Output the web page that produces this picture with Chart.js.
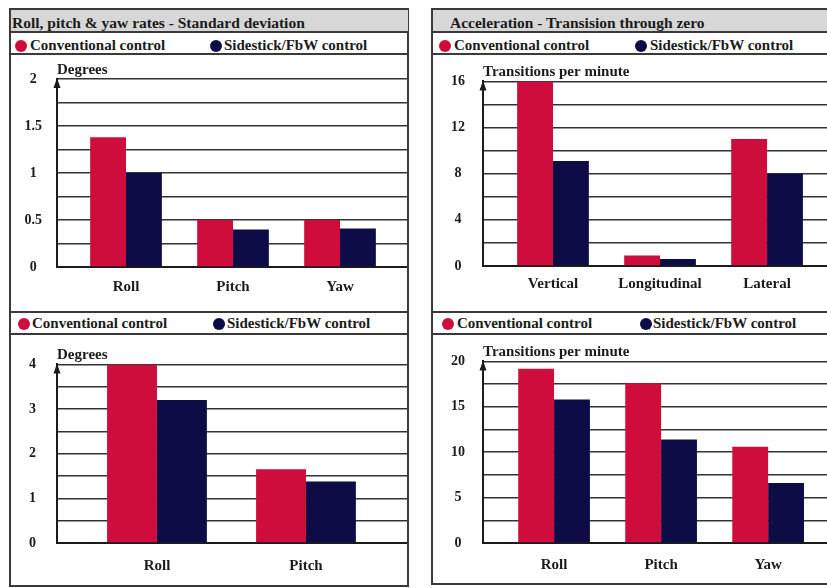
<!DOCTYPE html>
<html>
<head>
<meta charset="utf-8">
<script src="https://cdn.jsdelivr.net/npm/chart.js@4"></script>
<style>
  html, body { margin: 0; padding: 0; background: #ffffff; }
  body {
    width: 827px; height: 588px; position: relative; overflow: hidden;
    font-family: "Liberation Serif", "Times New Roman", serif;
    font-weight: bold; color: #1b1b1b;
  }
  .box { position: absolute; border: 2px solid #3a3a3a; box-sizing: border-box; }
  .titlebar {
    position: absolute; height: 22px; background: #d7d7d7;
    font-size: 15.5px; line-height: 26px; white-space: nowrap; overflow: hidden;
  }
  .rule { position: absolute; height: 2px; background: #3a3a3a; }
  .legend-text { position: absolute; font-size: 15px; line-height: 20px; white-space: nowrap; }
  .dot { position: absolute; width: 12px; height: 12px; border-radius: 50%; }
  canvas { position: absolute; }
</style>
</head>
<body>
<script>
// Series shared by all four panels
const seriesNames = ['Conventional control', 'Sidestick/FbW control'];
const seriesColors = ['#cf0d3d', '#0e0c47'];

// Roll, pitch & yaw rates - standard deviation (degrees)
const rateCategories = ['Roll', 'Pitch', 'Yaw'];
const rateConventional = [1.38, 0.5, 0.5];
const rateSidestick = [1.0, 0.4, 0.41];
const rateTicks = [0, 0.5, 1, 1.5, 2];

// Acceleration - transitions through zero per minute
const accelCategories = ['Vertical', 'Longitudinal', 'Lateral'];
const accelConventional = [16, 0.9, 11];
const accelSidestick = [9.1, 0.6, 8];
const accelTicks = [0, 4, 8, 12, 16];

// Roll and pitch attitude (degrees)
const attitudeCategories = ['Roll', 'Pitch'];
const attitudeConventional = [4, 1.65];
const attitudeSidestick = [3.2, 1.38];
const attitudeTicks = [0, 1, 2, 3, 4];

// Roll, pitch & yaw transitions per minute
const transCategories = ['Roll', 'Pitch', 'Yaw'];
const transConventional = [19.2, 17.6, 10.6];
const transSidestick = [15.8, 11.4, 6.6];
const transTicks = [0, 5, 10, 15, 20];

const leftTitle = 'Roll, pitch & yaw rates - Standard deviation';
const rightTitle = 'Acceleration - Transision through zero';
const degreesCaption = 'Degrees';
const transitionsCaption = 'Transitions per minute';

const FONT = '"Liberation Serif", "Times New Roman", serif';

// ---------- frame: boxes, title bars, rules ----------
function el(cls, style, text) {
  const d = document.createElement('div');
  d.className = cls;
  Object.assign(d.style, style);
  if (text) d.textContent = text;
  document.body.appendChild(d);
  return d;
}

el('box', { left: '9px', top: '8px', width: '400px', height: '579px' });
el('box', { left: '431px', top: '8px', width: '420px', height: '577px' });

el('titlebar', { left: '11px', top: '10px', width: '396px', paddingLeft: '1px' }, leftTitle);
el('titlebar', { left: '433px', top: '10px', width: '394px', paddingLeft: '17px', boxSizing: 'border-box' }, rightTitle);

[31, 53, 311, 333].forEach(y => {
  el('rule', { left: '9px', top: y + 'px', width: '400px' });
  el('rule', { left: '431px', top: y + 'px', width: '396px' });
});

// ---------- axis arrow and caption drawn on each chart ----------
const axisDecor = {
  id: 'axisDecor',
  afterDraw(chart, args, opts) {
    const { ctx, chartArea } = chart;
    const x = chart.scales.y.right;
    const top = chartArea.top;
    ctx.save();
    ctx.fillStyle = '#1b1b1b';
    ctx.beginPath();
    ctx.moveTo(x, top - 1);
    ctx.lineTo(x - 3.5, top + 9);
    ctx.lineTo(x + 3.5, top + 9);
    ctx.closePath();
    ctx.fill();
    ctx.font = 'bold 15px ' + FONT;
    ctx.textAlign = 'left';
    ctx.textBaseline = 'alphabetic';
    ctx.fillText(opts.caption, chartArea.left, top - 5);
    ctx.restore();
  }
};

// ---------- panel layout ----------
const panels = [
  {
    box: { left: 10, top: 55, width: 397, height: 256 },
    yWidth: 47, padTop: 24, xHeight: 44, xPad: 11, yPad: 15,
    xMin: -0.645, xMax: 2.626,
    categories: rateCategories, values: [rateConventional, rateSidestick], ticks: rateTicks,
    caption: degreesCaption,
    legendY: 45, legendX: [[21, 30], [215.5, 224]]
  },
  {
    box: { left: 433, top: 55, width: 394, height: 256 },
    yWidth: 50, padTop: 23, xHeight: 45, xPad: 9, yPad: 18,
    xMin: -0.654, xMax: 2.56,
    categories: accelCategories, values: [accelConventional, accelSidestick], ticks: accelTicks,
    caption: transitionsCaption,
    legendY: 45, legendX: [[444.5, 454], [641, 650]]
  },
  {
    box: { left: 10, top: 335, width: 397, height: 250 },
    yWidth: 47, padTop: 22, xHeight: 42, xPad: 14, yPad: 21,
    xMin: -0.671, xMax: 1.678,
    categories: attitudeCategories, values: [attitudeConventional, attitudeSidestick], ticks: attitudeTicks,
    caption: degreesCaption,
    legendY: 323, legendX: [[24, 32], [218.5, 227]]
  },
  {
    box: { left: 433, top: 335, width: 394, height: 250 },
    yWidth: 50, padTop: 22, xHeight: 42, xPad: 13, yPad: 18,
    xMin: -0.664, xMax: 2.55,
    categories: transCategories, values: [transConventional, transSidestick], ticks: transTicks,
    caption: transitionsCaption,
    legendY: 323, legendX: [[447.5, 457], [646, 653]]
  }
];

function buildLegend(p) {
  seriesNames.forEach((name, i) => {
    const [cx, tx] = p.legendX[i];
    el('dot', { left: (cx - 6) + 'px', top: (p.legendY - 5) + 'px', background: seriesColors[i] });
    el('legend-text', { left: tx + 'px', top: (p.legendY - 10) + 'px' }, name);
  });
}

function buildChart(p) {
  const canvas = document.createElement('canvas');
  canvas.width = p.box.width;
  canvas.height = p.box.height;
  Object.assign(canvas.style, {
    left: p.box.left + 'px', top: p.box.top + 'px',
    width: p.box.width + 'px', height: p.box.height + 'px'
  });
  document.body.appendChild(canvas);

  const majorStep = p.ticks[1] - p.ticks[0];
  const isMajor = v => p.ticks.some(t => Math.abs(t - v) < 1e-9);

  new Chart(canvas, {
    type: 'bar',
    data: {
      datasets: p.values.map((vals, i) => ({
        label: seriesNames[i],
        data: p.categories.map((c, j) => ({ x: j, y: vals[j] })),
        backgroundColor: seriesColors[i],
        borderWidth: 0,
        barPercentage: 1,
        categoryPercentage: 0.67
      }))
    },
    options: {
      responsive: false,
      animation: false,
      devicePixelRatio: 1,
      layout: { padding: { top: p.padTop, left: 0, right: 0, bottom: 0 } },
      plugins: {
        legend: { display: false },
        tooltip: { enabled: false },
        axisDecor: { caption: p.caption }
      },
      scales: {
        x: {
          type: 'linear',
          min: p.xMin, max: p.xMax,
          offset: false,
          grid: { display: false, drawTicks: false },
          border: { display: true, color: '#1b1b1b', width: 2 },
          ticks: {
            autoSkip: false, maxRotation: 0, padding: p.xPad,
            color: '#1b1b1b', font: { family: FONT, size: 15, weight: 'bold' },
            callback: v => p.categories[Math.round(v)] ?? ''
          },
          afterBuildTicks: s => { s.ticks = p.categories.map((c, i) => ({ value: i })); },
          afterFit: s => { s.height = p.xHeight; }
        },
        y: {
          min: 0, max: p.ticks[p.ticks.length - 1],
          grid: { color: '#333333', lineWidth: 1.6, drawTicks: false },
          border: { display: true, color: '#1b1b1b', width: 2 },
          ticks: {
            stepSize: majorStep / 2,
            padding: p.yPad, crossAlign: 'center',
            color: '#1b1b1b', font: { family: FONT, size: 14, weight: 'bold' },
            callback: v => isMajor(v) ? String(v) : ''
          },
          afterFit: s => { s.width = p.yWidth; }
        }
      }
    },
    plugins: [axisDecor]
  });
}

panels.forEach(p => { buildLegend(p); buildChart(p); });
</script>
</body>
</html>
